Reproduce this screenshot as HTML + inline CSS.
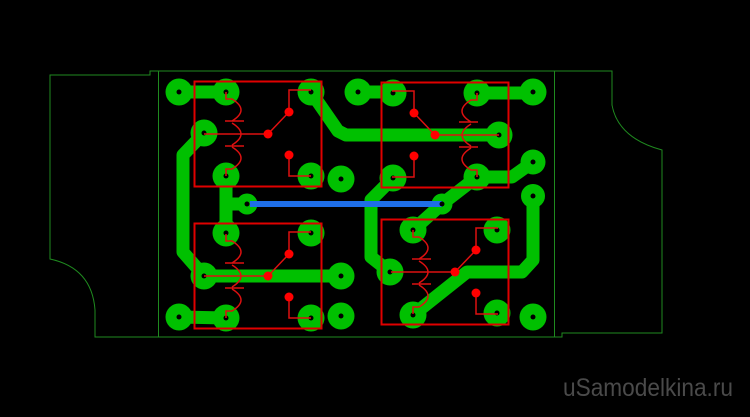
<!DOCTYPE html>
<html><head><meta charset="utf-8"><style>
html,body{margin:0;padding:0;background:#000;width:750px;height:417px;overflow:hidden}
svg{display:block}
</style></head><body>
<svg width="750" height="417" viewBox="0 0 750 417" xmlns="http://www.w3.org/2000/svg">
<defs>
<g id="relay">
  <rect x="194.5" y="81.5" width="127" height="105" fill="none" stroke="#e00000" stroke-width="2"/>
  <g fill="none" stroke="#dd1010" stroke-width="1.5">
    <path d="M204,134 H268 L289,112 V90 H311"/>
    <path d="M289,155 V176 H311"/>
    <path d="M226,92 V99 H232 Q250,110 232,121 M225,121 H244 M232,123 Q250,134 232,145 M225,146 H244 M232,147 Q250,158 232,169 H226 V176"/>
  </g>
  <g fill="#ff0000">
    <circle cx="268" cy="134" r="4.5"/><circle cx="289" cy="112" r="4.5"/><circle cx="289" cy="155" r="4.5"/>
  </g>
</g>
<g id="pads">
  <circle cx="179" cy="92" r="R"/>
</g>
</defs>
<g fill="none" stroke="#1f8a1f" stroke-width="1">
  <path d="M158,71 H612 V105 Q618,138 662,150 V333 H562 V337 H95 V310 Q92,268 50,259 V75 H150 V71 H158"/>
  <path d="M158.5,71 V337 M554.5,71 V337"/>
</g>
<g fill="none" stroke="#00c000" stroke-width="13" stroke-linejoin="round" stroke-linecap="round">
  <path d="M179,92 H226"/>
  <path d="M311,92 L338,131 L346,135 H499"/>
  <path d="M204,133 L183,155 V252 L204,276"/>
  <path d="M226,176 V233 M226,204 H247"/>
  <path d="M204,276 H341"/>
  <path d="M179,317 L226,318"/>
  <path d="M358,92 H393"/>
  <path d="M477,93 H533"/>
  <path d="M477,177 H512 L533,162"/>
  <path d="M393,178 L371,200 V257 L390,272"/>
  <path d="M477,177 L442,204 L413,230"/>
  <path d="M533,196 V260 L522,272 H467 L413,315"/>
</g>
<g fill="#00c000">
  <circle cx="179" cy="92" r="13.5"/><circle cx="226" cy="92" r="13.5"/><circle cx="204" cy="133" r="13.5"/>
  <circle cx="226" cy="176" r="13.5"/><circle cx="311" cy="92" r="13.5"/><circle cx="311" cy="176" r="13.5"/>
  <circle cx="341" cy="179" r="13.5"/><circle cx="358" cy="92" r="13.5"/><circle cx="247" cy="204" r="10.5"/>
  <circle cx="226" cy="233" r="13.5"/><circle cx="311" cy="233" r="13.5"/><circle cx="204" cy="276" r="13.5"/>
  <circle cx="341" cy="276" r="13.5"/><circle cx="179" cy="317" r="13.5"/><circle cx="226" cy="318" r="13.5"/>
  <circle cx="311" cy="318" r="13.5"/><circle cx="341" cy="316" r="13.5"/>
  <circle cx="393" cy="93" r="13.5"/><circle cx="477" cy="93" r="13.5"/><circle cx="533" cy="92" r="13.5"/>
  <circle cx="499" cy="135" r="13.5"/><circle cx="393" cy="178" r="13.5"/><circle cx="477" cy="177" r="13.5"/>
  <circle cx="533" cy="162" r="12.5"/><circle cx="533" cy="196" r="12"/><circle cx="442" cy="204" r="10.5"/>
  <circle cx="413" cy="230" r="13.5"/><circle cx="497" cy="230" r="13.5"/><circle cx="390" cy="272" r="13.5"/>
  <circle cx="413" cy="315" r="13.5"/><circle cx="497" cy="313" r="13.5"/><circle cx="533" cy="317" r="13.5"/>
</g>
<g fill="#000">
  <circle cx="179" cy="92" r="2.5"/><circle cx="226" cy="92" r="2.5"/><circle cx="204" cy="133" r="2.5"/>
  <circle cx="226" cy="176" r="2.5"/><circle cx="311" cy="92" r="2.5"/><circle cx="311" cy="176" r="2.5"/>
  <circle cx="341" cy="179" r="2.5"/><circle cx="358" cy="92" r="2.5"/><circle cx="247" cy="204" r="2.5"/>
  <circle cx="226" cy="233" r="2.5"/><circle cx="311" cy="233" r="2.5"/><circle cx="204" cy="276" r="2.5"/>
  <circle cx="341" cy="276" r="2.5"/><circle cx="179" cy="317" r="2.5"/><circle cx="226" cy="318" r="2.5"/>
  <circle cx="311" cy="318" r="2.5"/><circle cx="341" cy="316" r="2.5"/>
  <circle cx="393" cy="93" r="2.5"/><circle cx="477" cy="93" r="2.5"/><circle cx="533" cy="92" r="2.5"/>
  <circle cx="499" cy="135" r="2.5"/><circle cx="393" cy="178" r="2.5"/><circle cx="477" cy="177" r="2.5"/>
  <circle cx="533" cy="162" r="2.5"/><circle cx="533" cy="196" r="2.5"/>
  <circle cx="413" cy="230" r="2.5"/><circle cx="497" cy="230" r="2.5"/><circle cx="390" cy="272" r="2.5"/>
  <circle cx="413" cy="315" r="2.5"/><circle cx="497" cy="313" r="2.5"/><circle cx="533" cy="317" r="2.5"/>
</g>
<line x1="250" y1="204" x2="442" y2="204" stroke="#1e6ee8" stroke-width="6"/>
<circle cx="442" cy="204" r="2.5" fill="#000"/>
<use href="#relay"/>
<use href="#relay" transform="translate(0,142)"/>
<use href="#relay" transform="translate(703,1) scale(-1,1)"/>
<use href="#relay" transform="translate(187,138)"/>
<text x="563" y="396" font-family="Liberation Sans, sans-serif" font-size="25" fill="#4a4a4a" textLength="170" lengthAdjust="spacingAndGlyphs">uSamodelkina.ru</text>
</svg>
</body></html>
